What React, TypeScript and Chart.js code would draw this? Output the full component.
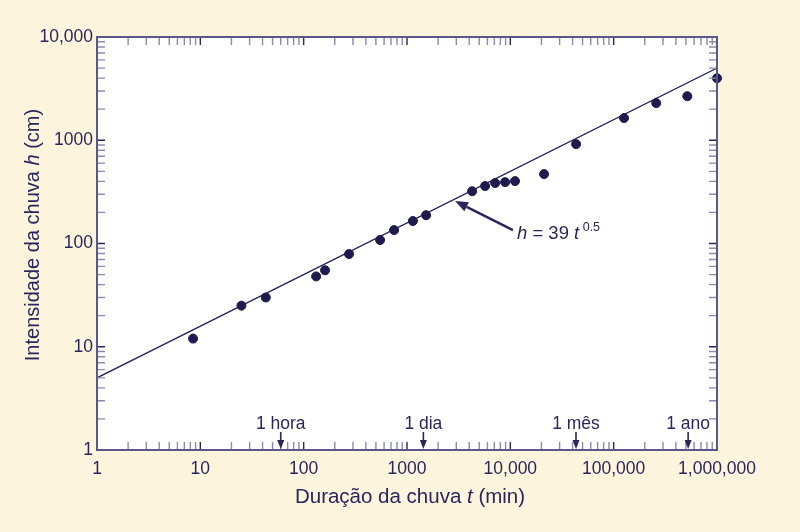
import React, { useEffect, useRef } from 'react';
import { Chart, registerables } from 'chart.js';

Chart.register(...registerables);

// ---- data ----
const durations = [8.5, 25, 43, 132, 161, 275, 549, 750, 1140, 1530, 4270, 5700, 7130, 8900, 11100, 21200, 43300, 126000, 258000, 516000, 1000000];
const intensities = [12, 25, 30, 48, 55, 79, 108, 135, 165, 188, 321, 360, 385, 393, 402, 470, 917, 1640, 2290, 2670, 3990];

const fitDurations = [1, 1000000];
const fitIntensities = [5, 5000];

const xTickValues = [1, 10, 100, 1000, 10000, 100000, 1000000];
const xTickLabels = ['1', '10', '100', '1000', '10,000', '100,000', '1,000,000'];
const yTickValues = [1, 10, 100, 1000, 10000];
const yTickLabels = ['1', '10', '100', '1000', '10,000'];

const markerLabels = ['1 hora', '1 dia', '1 mês', '1 ano'];
const markerValues = [60, 1440, 43200, 525600];

// annotation anchors in data units (t, h)
const annotationTip = [2915, 258];
const annotationTail = [10600, 135];
const annotationText = [11600, 111];

const xTitleRuns = [
  { text: 'Duração da chuva ', italic: false },
  { text: 't', italic: true },
  { text: ' (min)', italic: false },
];
const yTitleRuns = [
  { text: 'Intensidade da chuva ', italic: false },
  { text: 'h', italic: true },
  { text: ' (cm)', italic: false },
];

const BG = '#fdf4de';
const INK = '#28265a';
const AXIS = '#5a5888';
const MINOR = '#8c8aae';
const FONT = '"Liberation Sans", Arial, sans-serif';

type Run = { text: string; italic: boolean; size?: number; dy?: number };

function drawRuns(ctx: CanvasRenderingContext2D, runs: Run[], cx: number, y: number, size: number) {
  const widths = runs.map((r) => {
    ctx.font = `${r.italic ? 'italic ' : ''}${r.size ?? size}px ${FONT}`;
    return ctx.measureText(r.text).width;
  });
  const total = widths.reduce((a, b) => a + b, 0);
  let x = cx - total / 2;
  runs.forEach((r, i) => {
    ctx.font = `${r.italic ? 'italic ' : ''}${r.size ?? size}px ${FONT}`;
    ctx.fillText(r.text, x, y + (r.dy ?? 0));
    x += widths[i];
  });
}

function drawRunsLeft(ctx: CanvasRenderingContext2D, runs: Run[], x0: number, y: number, size: number) {
  let x = x0;
  runs.forEach((r) => {
    ctx.font = `${r.italic ? 'italic ' : ''}${r.size ?? size}px ${FONT}`;
    ctx.fillText(r.text, x, y + (r.dy ?? 0));
    x += ctx.measureText(r.text).width;
  });
}

const customPlugin = {
  id: 'customDraw',
  beforeDraw(chart: any) {
    const { ctx, chartArea: a } = chart;
    ctx.save();
    ctx.fillStyle = BG;
    ctx.fillRect(0, 0, chart.width, chart.height);
    ctx.fillStyle = '#ffffff';
    ctx.fillRect(a.left, a.top, a.right - a.left, a.bottom - a.top);
    ctx.restore();
  },
  afterDatasetsDraw(chart: any) {
    const { ctx, chartArea: a } = chart;
    const xs = chart.scales.x;
    const ys = chart.scales.y;
    ctx.save();

    // tick marks (inward on all four sides)
    const tl = 8;
    const drawTicks = (scale: any, horizontal: boolean, maxDec: number) => {
      for (let d = 0; d <= maxDec; d++) {
        for (let m = 1; m <= 9; m++) {
          const v = m * Math.pow(10, d);
          if (d === maxDec && m > 1) continue;
          const p = scale.getPixelForValue(v);
          ctx.strokeStyle = m === 1 ? INK : MINOR;
          ctx.lineWidth = 1.4;
          ctx.beginPath();
          if (horizontal) {
            ctx.moveTo(p, a.bottom);
            ctx.lineTo(p, a.bottom - tl);
            ctx.moveTo(p, a.top);
            ctx.lineTo(p, a.top + tl);
          } else {
            ctx.moveTo(a.left, p);
            ctx.lineTo(a.left + tl, p);
            ctx.moveTo(a.right, p);
            ctx.lineTo(a.right - tl, p);
          }
          ctx.stroke();
        }
      }
    };
    drawTicks(xs, true, 6);
    drawTicks(ys, false, 4);

    // frame
    ctx.strokeStyle = AXIS;
    ctx.lineWidth = 2;
    ctx.strokeRect(a.left, a.top, a.right - a.left, a.bottom - a.top);

    // time markers
    ctx.fillStyle = INK;
    ctx.strokeStyle = INK;
    ctx.textBaseline = 'alphabetic';
    markerLabels.forEach((lab, i) => {
      const x = xs.getPixelForValue(markerValues[i]);
      ctx.font = `17.5px ${FONT}`;
      ctx.textAlign = 'center';
      ctx.fillText(lab, x, a.bottom - 21);
      ctx.lineWidth = 1.6;
      ctx.beginPath();
      ctx.moveTo(x, a.bottom - 18);
      ctx.lineTo(x, a.bottom - 6);
      ctx.stroke();
      ctx.beginPath();
      ctx.moveTo(x, a.bottom - 1);
      ctx.lineTo(x - 3.5, a.bottom - 10);
      ctx.lineTo(x + 3.5, a.bottom - 10);
      ctx.closePath();
      ctx.fill();
    });

    // annotation arrow
    const tipX = xs.getPixelForValue(annotationTip[0]);
    const tipY = ys.getPixelForValue(annotationTip[1]);
    const tailX = xs.getPixelForValue(annotationTail[0]);
    const tailY = ys.getPixelForValue(annotationTail[1]);
    const ang = Math.atan2(tipY - tailY, tipX - tailX);
    const hl = 13;
    const hw = 5;
    const bx = tipX - hl * Math.cos(ang);
    const by = tipY - hl * Math.sin(ang);
    ctx.lineWidth = 2.5;
    ctx.beginPath();
    ctx.moveTo(tailX, tailY);
    ctx.lineTo(bx, by);
    ctx.stroke();
    ctx.beginPath();
    ctx.moveTo(tipX, tipY);
    ctx.lineTo(bx + hw * Math.sin(ang), by - hw * Math.cos(ang));
    ctx.lineTo(bx - hw * Math.sin(ang), by + hw * Math.cos(ang));
    ctx.closePath();
    ctx.fill();

    const txX = xs.getPixelForValue(annotationText[0]);
    const txY = ys.getPixelForValue(annotationText[1]);
    ctx.textAlign = 'left';
    drawRunsLeft(
      ctx,
      [
        { text: 'h', italic: true },
        { text: ' = 39 ', italic: false },
        { text: 't', italic: true },
        { text: ' 0.5', italic: false, size: 12.5, dy: -8 },
      ],
      txX,
      txY,
      18.5
    );

    // axis titles
    ctx.textAlign = 'left';
    drawRuns(ctx, xTitleRuns, 410, 503, 20.5);
    ctx.translate(39, 235);
    ctx.rotate(-Math.PI / 2);
    drawRuns(ctx, yTitleRuns, 0, 0, 20);
    ctx.restore();
  },
};

export default function App() {
  const ref = useRef<HTMLCanvasElement | null>(null);

  useEffect(() => {
    document.body.style.margin = '0';
    document.body.style.background = BG;
    const canvas = ref.current;
    if (!canvas) return;
    const chart = new Chart(canvas, {
      type: 'scatter',
      data: {
        datasets: [
          {
            label: 'obs',
            data: durations.map((t, i) => ({ x: t, y: intensities[i] })),
            backgroundColor: '#1f1b4e',
            borderColor: '#1f1b4e',
            pointRadius: 4.5,
            showLine: false,
            clip: false as any,
          },
          {
            label: 'fit',
            data: fitDurations.map((t, i) => ({ x: t, y: fitIntensities[i] })),
            borderColor: INK,
            borderWidth: 1.3,
            pointRadius: 0,
            showLine: true,
            fill: false,
          },
        ],
      },
      options: {
        responsive: false,
        animation: false,
        devicePixelRatio: 1,
        layout: { padding: { left: 0, right: 83, top: 37, bottom: 0 } },
        plugins: { legend: { display: false }, tooltip: { enabled: false } },
        scales: {
          x: {
            type: 'logarithmic',
            min: 1,
            max: 1000000,
            afterBuildTicks: (s: any) => {
              s.ticks = xTickValues.map((v) => ({ value: v }));
            },
            afterFit: (s: any) => {
              s.height = 82;
            },
            grid: { display: false, drawTicks: false },
            border: { display: false },
            ticks: {
              autoSkip: false,
              maxRotation: 0,
              padding: 9,
              color: INK,
              font: { family: FONT, size: 17.5 },
              callback: (v: any) => {
                const i = xTickValues.indexOf(Number(v));
                return i >= 0 ? xTickLabels[i] : '';
              },
            },
          },
          y: {
            type: 'logarithmic',
            min: 1,
            max: 10000,
            afterBuildTicks: (s: any) => {
              s.ticks = yTickValues.map((v) => ({ value: v }));
            },
            afterFit: (s: any) => {
              s.width = 97;
            },
            grid: { display: false, drawTicks: false },
            border: { display: false },
            ticks: {
              autoSkip: false,
              padding: 4,
              color: INK,
              font: { family: FONT, size: 17.5 },
              callback: (v: any) => {
                const i = yTickValues.indexOf(Number(v));
                return i >= 0 ? yTickLabels[i] : '';
              },
            },
          },
        },
      } as any,
      plugins: [customPlugin],
    });
    return () => chart.destroy();
  }, []);

  return (
    <div style={{ width: 800, height: 532 }}>
      <canvas ref={ref} width={800} height={532} style={{ display: 'block' }} />
    </div>
  );
}
